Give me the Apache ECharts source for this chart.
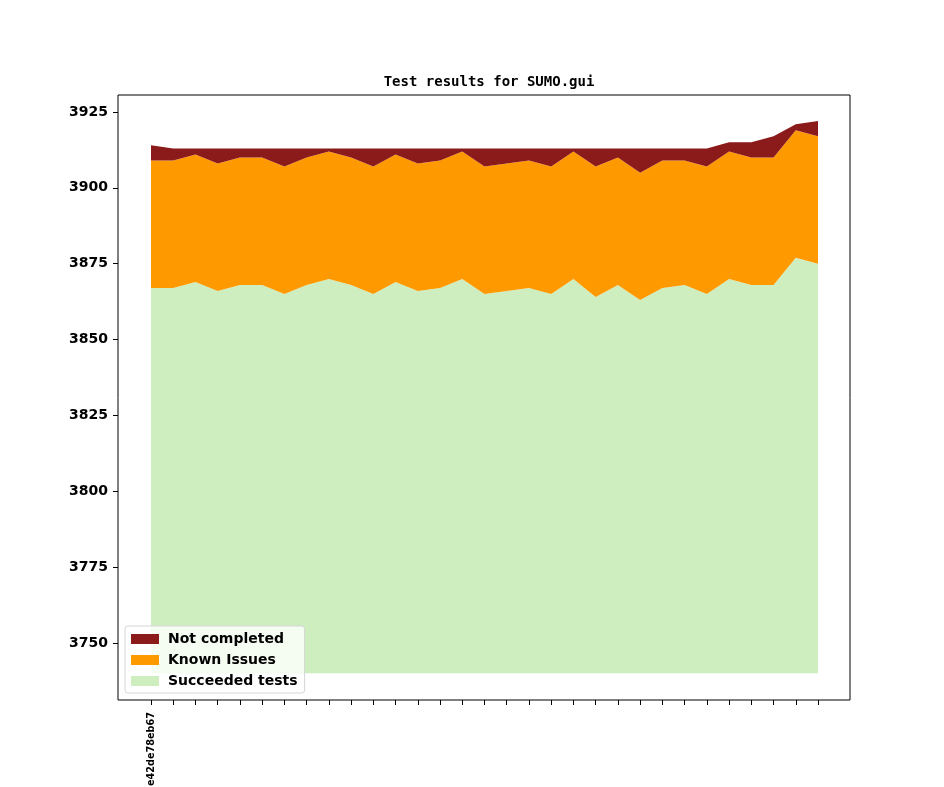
<!DOCTYPE html>
<html>
<head>
<meta charset="utf-8">
<title>Test results for SUMO.gui</title>
<script src="https://cdn.jsdelivr.net/npm/echarts@6/dist/echarts.min.js"></script>
<style>
    html, body { margin: 0; padding: 0; background: #fff; }
    #chart { width: 944px; height: 787px; }
</style>
</head>
<body>
<div id="chart"></div>
<script>
// commit labels (only the first one is printed on the axis)
var categories = ['e42de78eb67', '', '', '', '', '', '', '', '', '', '', '', '', '', '', '',
    '', '', '', '', '', '', '', '', '', '', '', '', '', '', ''];
var succeeded = [3867, 3867, 3869, 3866, 3868, 3868, 3865, 3868, 3870, 3868, 3865, 3869, 3866, 3867, 3870, 3865,
    3866, 3867, 3865, 3870, 3864, 3868, 3863, 3867, 3868, 3865, 3870, 3868, 3868, 3877, 3875];
var knownIssues = [42, 42, 42, 42, 42, 42, 42, 42, 42, 42, 42, 42, 42, 42, 42, 42,
    42, 42, 42, 42, 43, 42, 42, 42, 41, 42, 42, 42, 42, 42, 42];
var notCompleted = [5, 4, 2, 5, 3, 3, 6, 3, 1, 3, 6, 2, 5, 4, 1, 6,
    5, 4, 6, 1, 6, 3, 8, 4, 4, 6, 3, 5, 7, 2, 5];
var yTicks = [3750, 3775, 3800, 3825, 3850, 3875, 3900, 3925];
var fillBase = 3740;

(function () {
    var myChart = echarts.init(document.getElementById('chart'));

    // axes frame (matplotlib style), the plotted points sit inset from it
    var frame = { left: 118, right: 850, top: 95, bottom: 700 };
    var pad = 33; // margin between frame and first / last point

    var boldText = {
        color: '#000',
        fontFamily: 'DejaVu Sans',
        fontWeight: 'bold'
    };

    function area(name, data, color, origin) {
        var s = {
            name: name,
            type: 'line',
            stack: 'total',
            data: data,
            showSymbol: false,
            symbol: 'none',
            lineStyle: { width: 0 },
            itemStyle: { color: color },
            areaStyle: { color: color, opacity: 1 },
            emphasis: { disabled: true }
        };
        if (origin !== undefined) {
            s.areaStyle.origin = origin;
        }
        return s;
    }

    var option = {
        animation: false,
        title: {
            text: 'Test results for SUMO.gui',
            left: 484,
            textAlign: 'center',
            top: 70,
            textStyle: {
                color: '#000',
                fontFamily: 'DejaVu Sans Mono',
                fontWeight: 'bold',
                fontSize: 14
            }
        },
        grid: {
            left: frame.left + pad,
            right: 944 - frame.right + 32,
            top: frame.top,
            bottom: 787 - frame.bottom,
            outerBoundsMode: 'none'
        },
        graphic: [{
            type: 'rect',
            z: 100,
            silent: true,
            shape: {
                x: frame.left,
                y: frame.top,
                width: frame.right - frame.left,
                height: frame.bottom - frame.top
            },
            style: { fill: null, stroke: '#000', lineWidth: 1 }
        }],
        legend: {
            orient: 'vertical',
            left: 125,
            top: 626,
            z: 120,
            data: ['Not completed', 'Known Issues', 'Succeeded tests'],
            icon: 'rect',
            itemWidth: 28,
            itemHeight: 10,
            itemGap: 7,
            padding: [6, 7, 5, 6],
            backgroundColor: 'rgba(255,255,255,0.8)',
            borderColor: '#d6d6d6',
            borderWidth: 1,
            borderRadius: 3,
            textStyle: Object.assign({ fontSize: 14, padding: [0, 0, 0, 4] }, boldText)
        },
        xAxis: {
            type: 'category',
            data: categories,
            boundaryGap: false,
            splitLine: { show: false },
            axisLine: { show: false },
            axisTick: {
                show: true,
                length: 5,
                interval: 0,
                lineStyle: { color: '#000' }
            },
            axisLabel: Object.assign({
                interval: 0,
                rotate: 90,
                fontSize: 9.7,
                margin: 12
            }, boldText)
        },
        yAxis: {
            type: 'value',
            min: 3731.21,
            max: 3930.6,
            offset: pad,
            splitLine: { show: false },
            axisLine: { show: false, onZero: false },
            axisTick: {
                show: true,
                length: 5,
                customValues: yTicks,
                lineStyle: { color: '#000' }
            },
            axisLabel: Object.assign({
                customValues: yTicks,
                fontSize: 14,
                margin: 10,
                formatter: function (v) { return String(v); }
            }, boldText)
        },
        series: [
            area('Succeeded tests', succeeded, '#ceeebf', fillBase),
            area('Known Issues', knownIssues, '#ff9900'),
            area('Not completed', notCompleted, '#8b1a1a')
        ]
    };

    myChart.setOption(option);
    window.addEventListener('resize', function () {
        myChart.resize();
    });
})();
</script>
</body>
</html>
